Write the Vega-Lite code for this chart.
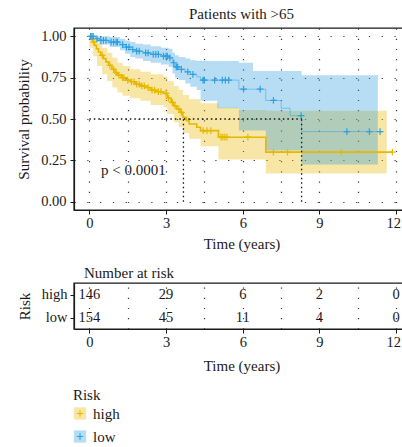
{
  "$schema": "https://vega.github.io/schema/vega-lite/v6.json",
  "padding": {"left": 15, "top": 6, "right": 0, "bottom": 0},
  "bounds": "flush",
  "spacing": 73,
  "config": {
    "font": "Liberation Serif",
    "view": {"stroke": "#1a1a1a", "strokeWidth": 1.4},
    "axis": {
      "labelFont": "Liberation Serif", "titleFont": "Liberation Serif",
      "labelFontSize": 14.5, "titleFontSize": 15, "titleFontWeight": "normal", "labelFontWeight": "normal",
      "labelColor": "#1a1a1a", "titleColor": "#1a1a1a",
      "domainColor": "#1a1a1a", "domainWidth": 1.2,
      "tickColor": "#1a1a1a", "tickSize": 4, "labelPadding": 2,
      "gridColor": "#222222", "gridWidth": 1.2, "gridOpacity": 0.9
    },
    "axisX": {"gridDash": [1.2, 9]},
    "axisY": {"gridDash": [1.2, 11.6]},
    "title": {"font": "Liberation Serif", "fontSize": 15, "fontWeight": "normal", "color": "#1a1a1a"}
  },
  "datasets": {
    "bands": [
      {"g": "high", "t": 0, "lo": 0.93, "hi": 1.0},
      {"g": "high", "t": 0.15, "lo": 0.88, "hi": 0.99},
      {"g": "high", "t": 0.3, "lo": 0.82, "hi": 0.96},
      {"g": "high", "t": 0.5, "lo": 0.77, "hi": 0.93},
      {"g": "high", "t": 0.7, "lo": 0.73, "hi": 0.9},
      {"g": "high", "t": 0.9, "lo": 0.69, "hi": 0.87},
      {"g": "high", "t": 1.1, "lo": 0.66, "hi": 0.84},
      {"g": "high", "t": 1.3, "lo": 0.64, "hi": 0.82},
      {"g": "high", "t": 1.6, "lo": 0.625, "hi": 0.8},
      {"g": "high", "t": 2.0, "lo": 0.61, "hi": 0.785},
      {"g": "high", "t": 2.4, "lo": 0.585, "hi": 0.77},
      {"g": "high", "t": 2.9, "lo": 0.57, "hi": 0.755},
      {"g": "high", "t": 3.05, "lo": 0.53, "hi": 0.73},
      {"g": "high", "t": 3.3, "lo": 0.48, "hi": 0.7},
      {"g": "high", "t": 3.5, "lo": 0.45, "hi": 0.675},
      {"g": "high", "t": 3.66, "lo": 0.415, "hi": 0.645},
      {"g": "high", "t": 3.9, "lo": 0.38, "hi": 0.62},
      {"g": "high", "t": 4.35, "lo": 0.335, "hi": 0.595},
      {"g": "high", "t": 5.05, "lo": 0.255, "hi": 0.57},
      {"g": "high", "t": 5.84, "lo": 0.255, "hi": 0.555},
      {"g": "high", "t": 6.9, "lo": 0.17, "hi": 0.55},
      {"g": "high", "t": 11.63, "lo": 0.17, "hi": 0.55},
      {"g": "low", "t": 0, "lo": 0.985, "hi": 1.0},
      {"g": "low", "t": 0.25, "lo": 0.965, "hi": 1.0},
      {"g": "low", "t": 0.4, "lo": 0.95, "hi": 1.0},
      {"g": "low", "t": 0.8, "lo": 0.935, "hi": 0.995},
      {"g": "low", "t": 1.2, "lo": 0.915, "hi": 0.985},
      {"g": "low", "t": 1.4, "lo": 0.895, "hi": 0.975},
      {"g": "low", "t": 1.6, "lo": 0.875, "hi": 0.965},
      {"g": "low", "t": 1.8, "lo": 0.865, "hi": 0.955},
      {"g": "low", "t": 2.1, "lo": 0.85, "hi": 0.95},
      {"g": "low", "t": 2.4, "lo": 0.84, "hi": 0.94},
      {"g": "low", "t": 2.8, "lo": 0.83, "hi": 0.93},
      {"g": "low", "t": 3.1, "lo": 0.815, "hi": 0.925},
      {"g": "low", "t": 3.25, "lo": 0.775, "hi": 0.9},
      {"g": "low", "t": 3.35, "lo": 0.75, "hi": 0.885},
      {"g": "low", "t": 3.5, "lo": 0.735, "hi": 0.875},
      {"g": "low", "t": 3.75, "lo": 0.715, "hi": 0.865},
      {"g": "low", "t": 3.95, "lo": 0.695, "hi": 0.855},
      {"g": "low", "t": 4.2, "lo": 0.675, "hi": 0.85},
      {"g": "low", "t": 4.35, "lo": 0.61, "hi": 0.85},
      {"g": "low", "t": 5.0, "lo": 0.565, "hi": 0.85},
      {"g": "low", "t": 5.85, "lo": 0.43, "hi": 0.84},
      {"g": "low", "t": 6.4, "lo": 0.43, "hi": 0.79},
      {"g": "low", "t": 6.9, "lo": 0.31, "hi": 0.79},
      {"g": "low", "t": 8.3, "lo": 0.225, "hi": 0.764},
      {"g": "low", "t": 11.28, "lo": 0.225, "hi": 0.764}
    ],
    "km": [
      {"g": "high", "t": 0, "s": 1.0},
      {"g": "high", "t": 0.05, "s": 0.985},
      {"g": "high", "t": 0.12, "s": 0.965},
      {"g": "high", "t": 0.2, "s": 0.945},
      {"g": "high", "t": 0.28, "s": 0.925},
      {"g": "high", "t": 0.36, "s": 0.905},
      {"g": "high", "t": 0.45, "s": 0.885},
      {"g": "high", "t": 0.55, "s": 0.865},
      {"g": "high", "t": 0.65, "s": 0.845},
      {"g": "high", "t": 0.75, "s": 0.825},
      {"g": "high", "t": 0.88, "s": 0.8},
      {"g": "high", "t": 1.0, "s": 0.78},
      {"g": "high", "t": 1.1, "s": 0.765},
      {"g": "high", "t": 1.25, "s": 0.75},
      {"g": "high", "t": 1.4, "s": 0.735},
      {"g": "high", "t": 1.6, "s": 0.725},
      {"g": "high", "t": 1.8, "s": 0.71},
      {"g": "high", "t": 2.0, "s": 0.7},
      {"g": "high", "t": 2.2, "s": 0.69},
      {"g": "high", "t": 2.4, "s": 0.675},
      {"g": "high", "t": 2.6, "s": 0.665},
      {"g": "high", "t": 2.9, "s": 0.655},
      {"g": "high", "t": 3.05, "s": 0.625},
      {"g": "high", "t": 3.2, "s": 0.6},
      {"g": "high", "t": 3.3, "s": 0.58},
      {"g": "high", "t": 3.42, "s": 0.56},
      {"g": "high", "t": 3.55, "s": 0.54},
      {"g": "high", "t": 3.66, "s": 0.51},
      {"g": "high", "t": 3.8, "s": 0.49},
      {"g": "high", "t": 3.9, "s": 0.47},
      {"g": "high", "t": 4.2, "s": 0.45},
      {"g": "high", "t": 4.35, "s": 0.43},
      {"g": "high", "t": 5.05, "s": 0.39},
      {"g": "high", "t": 6.9, "s": 0.3},
      {"g": "high", "t": 11.85, "s": 0.3},
      {"g": "low", "t": 0, "s": 1.0},
      {"g": "low", "t": 0.25, "s": 0.985},
      {"g": "low", "t": 0.4, "s": 0.975},
      {"g": "low", "t": 0.8, "s": 0.965},
      {"g": "low", "t": 1.2, "s": 0.95},
      {"g": "low", "t": 1.4, "s": 0.935},
      {"g": "low", "t": 1.6, "s": 0.92},
      {"g": "low", "t": 1.8, "s": 0.91},
      {"g": "low", "t": 2.1, "s": 0.9},
      {"g": "low", "t": 2.4, "s": 0.89},
      {"g": "low", "t": 2.8, "s": 0.88},
      {"g": "low", "t": 3.1, "s": 0.87},
      {"g": "low", "t": 3.25, "s": 0.84},
      {"g": "low", "t": 3.35, "s": 0.815},
      {"g": "low", "t": 3.5, "s": 0.8},
      {"g": "low", "t": 3.75, "s": 0.785},
      {"g": "low", "t": 3.95, "s": 0.77},
      {"g": "low", "t": 4.2, "s": 0.755},
      {"g": "low", "t": 4.35, "s": 0.735},
      {"g": "low", "t": 5.85, "s": 0.68},
      {"g": "low", "t": 6.9, "s": 0.612},
      {"g": "low", "t": 7.5, "s": 0.565},
      {"g": "low", "t": 7.85, "s": 0.52},
      {"g": "low", "t": 8.3, "s": 0.424},
      {"g": "low", "t": 11.37, "s": 0.424}
    ],
    "cens": [
      {"g": "high", "t": 0.18, "s": 0.965},
      {"g": "high", "t": 0.5, "s": 0.885},
      {"g": "high", "t": 0.8, "s": 0.825},
      {"g": "high", "t": 0.95, "s": 0.8},
      {"g": "high", "t": 1.05, "s": 0.78},
      {"g": "high", "t": 1.15, "s": 0.765},
      {"g": "high", "t": 1.3, "s": 0.75},
      {"g": "high", "t": 1.35, "s": 0.75},
      {"g": "high", "t": 1.5, "s": 0.735},
      {"g": "high", "t": 1.65, "s": 0.725},
      {"g": "high", "t": 1.75, "s": 0.725},
      {"g": "high", "t": 1.85, "s": 0.71},
      {"g": "high", "t": 1.95, "s": 0.71},
      {"g": "high", "t": 2.05, "s": 0.7},
      {"g": "high", "t": 2.15, "s": 0.7},
      {"g": "high", "t": 2.3, "s": 0.69},
      {"g": "high", "t": 2.45, "s": 0.675},
      {"g": "high", "t": 2.55, "s": 0.675},
      {"g": "high", "t": 2.7, "s": 0.665},
      {"g": "high", "t": 2.8, "s": 0.665},
      {"g": "high", "t": 3.0, "s": 0.655},
      {"g": "high", "t": 3.1, "s": 0.625},
      {"g": "high", "t": 3.25, "s": 0.6},
      {"g": "high", "t": 3.35, "s": 0.58},
      {"g": "high", "t": 3.5, "s": 0.56},
      {"g": "high", "t": 3.6, "s": 0.54},
      {"g": "high", "t": 4.45, "s": 0.43},
      {"g": "high", "t": 4.6, "s": 0.43},
      {"g": "high", "t": 4.75, "s": 0.43},
      {"g": "high", "t": 5.15, "s": 0.39},
      {"g": "high", "t": 5.22, "s": 0.39},
      {"g": "high", "t": 5.3, "s": 0.39},
      {"g": "high", "t": 5.38, "s": 0.39},
      {"g": "high", "t": 6.2, "s": 0.39},
      {"g": "high", "t": 7.2, "s": 0.3},
      {"g": "high", "t": 7.75, "s": 0.3},
      {"g": "high", "t": 9.85, "s": 0.3},
      {"g": "high", "t": 11.85, "s": 0.3},
      {"g": "low", "t": 0.05, "s": 1.0},
      {"g": "low", "t": 0.1, "s": 1.0},
      {"g": "low", "t": 0.15, "s": 1.0},
      {"g": "low", "t": 0.3, "s": 0.985},
      {"g": "low", "t": 0.45, "s": 0.975},
      {"g": "low", "t": 0.55, "s": 0.975},
      {"g": "low", "t": 0.65, "s": 0.975},
      {"g": "low", "t": 0.85, "s": 0.965},
      {"g": "low", "t": 0.95, "s": 0.965},
      {"g": "low", "t": 1.05, "s": 0.965},
      {"g": "low", "t": 1.1, "s": 0.965},
      {"g": "low", "t": 1.3, "s": 0.95},
      {"g": "low", "t": 1.45, "s": 0.935},
      {"g": "low", "t": 1.55, "s": 0.935},
      {"g": "low", "t": 1.7, "s": 0.92},
      {"g": "low", "t": 1.85, "s": 0.91},
      {"g": "low", "t": 1.95, "s": 0.91},
      {"g": "low", "t": 2.2, "s": 0.9},
      {"g": "low", "t": 2.3, "s": 0.9},
      {"g": "low", "t": 2.5, "s": 0.89},
      {"g": "low", "t": 2.6, "s": 0.89},
      {"g": "low", "t": 2.7, "s": 0.89},
      {"g": "low", "t": 2.9, "s": 0.88},
      {"g": "low", "t": 3.0, "s": 0.88},
      {"g": "low", "t": 3.05, "s": 0.88},
      {"g": "low", "t": 3.15, "s": 0.87},
      {"g": "low", "t": 3.3, "s": 0.84},
      {"g": "low", "t": 3.4, "s": 0.815},
      {"g": "low", "t": 3.45, "s": 0.815},
      {"g": "low", "t": 3.6, "s": 0.8},
      {"g": "low", "t": 3.85, "s": 0.785},
      {"g": "low", "t": 4.05, "s": 0.77},
      {"g": "low", "t": 4.45, "s": 0.735},
      {"g": "low", "t": 4.5, "s": 0.735},
      {"g": "low", "t": 4.9, "s": 0.735},
      {"g": "low", "t": 5.2, "s": 0.735},
      {"g": "low", "t": 5.32, "s": 0.735},
      {"g": "low", "t": 5.45, "s": 0.735},
      {"g": "low", "t": 6.03, "s": 0.68},
      {"g": "low", "t": 6.68, "s": 0.68},
      {"g": "low", "t": 7.2, "s": 0.612},
      {"g": "low", "t": 8.28, "s": 0.52},
      {"g": "low", "t": 10.07, "s": 0.424},
      {"g": "low", "t": 10.95, "s": 0.424},
      {"g": "low", "t": 11.37, "s": 0.424}
    ],
    "medh": [{"t": 0, "t2": 8.3, "s": 0.5}],
    "medv": [{"t": 3.68, "s": 0, "s2": 0.5}, {"t": 8.3, "s": 0, "s2": 0.5}],
    "pval": [{"t": 1.72, "s": 0.19, "label": "p < 0.0001"}],
    "risk": [
      {"g": "high", "t": 0, "n": "146"},
      {"g": "high", "t": 3, "n": "29"},
      {"g": "high", "t": 6, "n": "6"},
      {"g": "high", "t": 9, "n": "2"},
      {"g": "high", "t": 12, "n": "0"},
      {"g": "low", "t": 0, "n": "154"},
      {"g": "low", "t": 3, "n": "45"},
      {"g": "low", "t": 6, "n": "11"},
      {"g": "low", "t": 9, "n": "4"},
      {"g": "low", "t": 12, "n": "0"}
    ],
    "leg": [{"g": "high"}, {"g": "low"}]
  },
  "vconcat": [
    {
      "width": 335,
      "height": 182,
      "title": {"text": "Patients with >65", "anchor": "middle", "offset": 6, "fontWeight": "normal"},
      "layer": [
        {
          "data": {"name": "bands"},
          "mark": {"type": "area", "interpolate": "step-after", "opacity": 0.35},
          "encoding": {
            "x": {"field": "t", "type": "quantitative",
              "scale": {"domain": [-0.6, 12.5], "nice": false, "zero": false},
              "axis": {"title": "Time (years)", "titleFontWeight": "normal", "values": [0, 1.5, 3, 4.5, 6, 7.5, 9, 10.5, 12],
                "labelExpr": "datum.value % 3 === 0 ? datum.label : ''",
                "labelOffset": {"condition": {"test": "datum.value === 12", "value": -3}, "value": 0},
                "tickOpacity": {"condition": {"test": "datum.value % 3 !== 0", "value": 0}, "value": 1},
                "titlePadding": 7}},
            "y": {"field": "lo", "type": "quantitative", "stack": null,
              "scale": {"domain": [-0.05, 1.05], "nice": false, "zero": false},
              "axis": {"title": "Survival probability", "titleFontWeight": "normal", "values": [0, 0.125, 0.25, 0.375, 0.5, 0.625, 0.75, 0.875, 1],
                "labelExpr": "abs(datum.value*4 - round(datum.value*4)) < 0.01 ? format(datum.value, '.2f') : ''",
                "tickOpacity": {"condition": {"test": "abs(datum.value*4 - round(datum.value*4)) > 0.01", "value": 0}, "value": 1},
                "labelPadding": 4, "titlePadding": 9}},
            "y2": {"field": "hi"},
            "color": {"field": "g", "type": "nominal", "scale": {"domain": ["high", "low"], "range": ["#E7B800", "#2E9FDF"]}, "legend": null}
          }
        },
        {
          "data": {"name": "km"},
          "mark": {"type": "line", "interpolate": "step-after"},
          "encoding": {
            "x": {"field": "t", "type": "quantitative"},
            "y": {"field": "s", "type": "quantitative"},
            "color": {"field": "g", "type": "nominal", "legend": null},
            "strokeWidth": {"field": "g", "type": "nominal", "scale": {"domain": ["high", "low"], "range": [1.6, 0.8]}, "legend": null},
            "opacity": {"field": "g", "type": "nominal", "scale": {"domain": ["high", "low"], "range": [1, 0.6]}, "legend": null}
          }
        },
        {
          "data": {"name": "cens"},
          "mark": {"type": "point", "shape": "M-1,0L1,0M0,-1L0,1", "filled": false, "size": 45, "strokeWidth": 1.2, "opacity": 1},
          "encoding": {
            "x": {"field": "t", "type": "quantitative"},
            "y": {"field": "s", "type": "quantitative"},
            "color": {"field": "g", "type": "nominal", "legend": null}
          }
        },
        {
          "data": {"name": "medh"},
          "mark": {"type": "rule", "strokeDash": [1.5, 3], "strokeWidth": 1.3, "color": "#111111"},
          "encoding": {
            "x": {"field": "t", "type": "quantitative"},
            "x2": {"field": "t2"},
            "y": {"field": "s", "type": "quantitative"}
          }
        },
        {
          "data": {"name": "medv"},
          "mark": {"type": "rule", "strokeDash": [1.5, 3], "strokeWidth": 1.3, "color": "#111111"},
          "encoding": {
            "x": {"field": "t", "type": "quantitative"},
            "y": {"field": "s", "type": "quantitative"},
            "y2": {"field": "s2"}
          }
        },
        {
          "data": {"name": "pval"},
          "mark": {"type": "text", "fontSize": 15, "color": "#1a1a1a", "font": "Liberation Serif"},
          "encoding": {
            "x": {"field": "t", "type": "quantitative"},
            "y": {"field": "s", "type": "quantitative"},
            "text": {"field": "label"}
          }
        }
      ]
    },
    {
      "width": 335,
      "height": 46,
      "title": {"text": "Number at risk", "anchor": "start", "frame": "group", "dx": 10, "offset": 2, "fontWeight": "normal"},
      "data": {"name": "risk"},
      "mark": {"type": "text", "fontSize": 14.5, "color": "#1a1a1a", "font": "Liberation Serif"},
      "encoding": {
        "x": {"field": "t", "type": "quantitative",
          "scale": {"domain": [-0.6, 12.5], "nice": false, "zero": false},
          "axis": {"title": "Time (years)", "titleFontWeight": "normal", "values": [0, 1.5, 3, 4.5, 6, 7.5, 9, 10.5, 12],
            "labelExpr": "datum.value % 3 === 0 ? datum.label : ''",
            "labelOffset": {"condition": {"test": "datum.value === 12", "value": -3}, "value": 0},
            "tickOpacity": {"condition": {"test": "datum.value % 3 !== 0", "value": 0}, "value": 1},
            "titlePadding": 10}},
        "y": {"field": "g", "type": "nominal", "scale": {"domain": ["high", "low"]},
          "axis": {"title": "Risk", "titleFontWeight": "normal", "labelPadding": 3, "titlePadding": 9, "gridDash": [1.2, 9]}},
        "text": {"field": "n"}
      }
    },
    {
      "width": 12,
      "height": 46,
      "view": {"stroke": null},
      "title": {"text": "Risk", "anchor": "start", "dx": -1, "offset": -1, "fontWeight": "normal"},
      "data": {"name": "leg"},
      "encoding": {
        "y": {"field": "g", "type": "nominal", "scale": {"domain": ["high", "low"]}, "axis": null},
        "color": {"field": "g", "type": "nominal", "scale": {"domain": ["high", "low"], "range": ["#E7B800", "#2E9FDF"]}, "legend": null}
      },
      "layer": [
        {"mark": {"type": "point", "shape": "square", "filled": true, "size": 150, "opacity": 0.35}},
        {"mark": {"type": "point", "shape": "M-1,0L1,0M0,-1L0,1", "filled": false, "size": 40, "strokeWidth": 1.1, "opacity": 1}},
        {"mark": {"type": "text", "align": "left", "dx": 13, "fontSize": 15, "color": "#1a1a1a", "font": "Liberation Serif"}, "encoding": {"text": {"field": "g"}, "color": {"value": "#1a1a1a"}}}
      ]
    }
  ]
}
